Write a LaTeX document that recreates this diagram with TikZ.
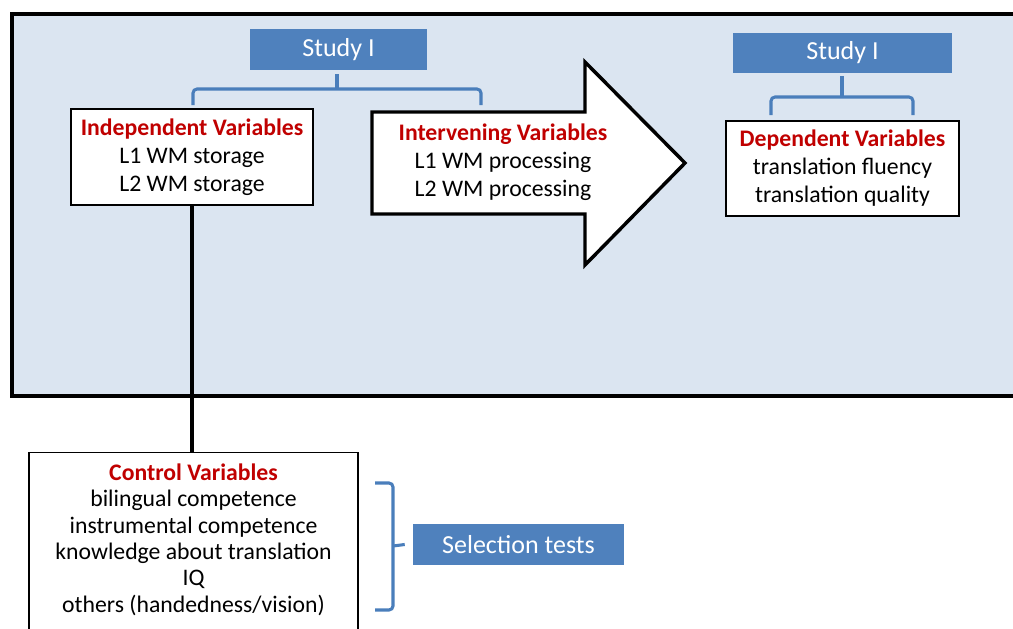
\documentclass[tikz,border=0pt]{standalone}
\usepackage{fontspec}
\setmainfont{Carlito}
\usetikzlibrary{positioning,calc}
\definecolor{panel blue}{HTML}{DBE5F1}
\definecolor{study blue}{HTML}{4F81BD}
\definecolor{brace blue}{HTML}{4A7EBB}
\definecolor{var red}{HTML}{C00000}
\def\panelRect{(12,14) rectangle (1030,396)}
\def\bigArrow{(372,112) -- (585,112) -- (585,62) -- (685,163) -- (585,265) -- (585,214) -- (372,214) -- cycle}
\tikzset{varbox/.style={draw=black, fill=white, line width=0.8pt, align=center,
        font=\fontsize{17.8}{21}\selectfont, inner sep=0pt},
    studybox/.style={fill=study blue, text=white, inner sep=0pt,
        font=\fontsize{19.5}{22}\selectfont},
    bracket/.style={draw=brace blue, line width=2.3pt, rounded corners=3pt},
    outline/.style={draw=black, line width=2.6pt}}
\newcommand{\varTitle}[1]{\textcolor{var red}{\textbf{#1}}}

\begin{document}
\begin{tikzpicture}[x=0.75pt, y=-0.75pt]
    \useasboundingbox (0,0) rectangle (1013,628);
    \clip (0,0) rectangle (1013,628);
    \fill[panel blue] \panelRect;
    \draw[outline] (1030,14) -- (12,14) -- (12,396) -- (1030,396);
    \filldraw[outline, fill=white, line join=miter] \bigArrow;
    \node[studybox, minimum width=132.75pt, minimum height=30.75pt] (studyA) at (338.5,49.5) {Study I};
    \node[studybox, minimum width=164.25pt, minimum height=30pt] (studyB) at (842.5,53) {Study I};
    \node[varbox, minimum width=181.5pt, minimum height=72pt] (indep) at (192,157)
        {\varTitle{Independent Variables}\\ L1 WM storage\\ L2 WM storage};
    \node[align=center, font=\fontsize{17.8}{21}\selectfont] (interv) at (503,162)
        {\varTitle{Intervening Variables}\\ L1 WM processing\\ L2 WM processing};
    \node[varbox, minimum width=174.75pt, minimum height=71.25pt] (dep) at (842.5,168.5)
        {\varTitle{Dependent Variables}\\ translation fluency\\ translation quality};
    \node[varbox, anchor=north, minimum width=246.75pt, minimum height=142pt,
        font=\fontsize{17.8}{19.8}\selectfont] (control) at (193.5,452)
        {\varTitle{Control Variables}\\ bilingual competence\\ instrumental competence\\
         knowledge about translation\\ IQ\\ others (handedness/vision)\rule[-14pt]{0pt}{1pt}};
    \node[studybox, minimum width=158.25pt, minimum height=30.75pt] (select) at (518.5,544.5) {Selection tests};
    \draw[outline] (indep.south) -- (indep.south |- control.north);
    \draw[bracket] (193,105) -- (193,89) -- (481,89) -- (481,105);
    \draw[bracket, rounded corners=0pt] (337,89) -- (337,74);
    \draw[bracket] (771,115) -- (771,97) -- (913,97) -- (913,115);
    \draw[bracket, rounded corners=0pt] (842,97) -- (842,76);
    \draw[bracket] (375,483) -- (393,483) -- (393,610) -- (375,610);
    \draw[bracket, rounded corners=0pt] (393,546) -- ($(select.west)+(-8,0)$);
\end{tikzpicture}
\end{document}
